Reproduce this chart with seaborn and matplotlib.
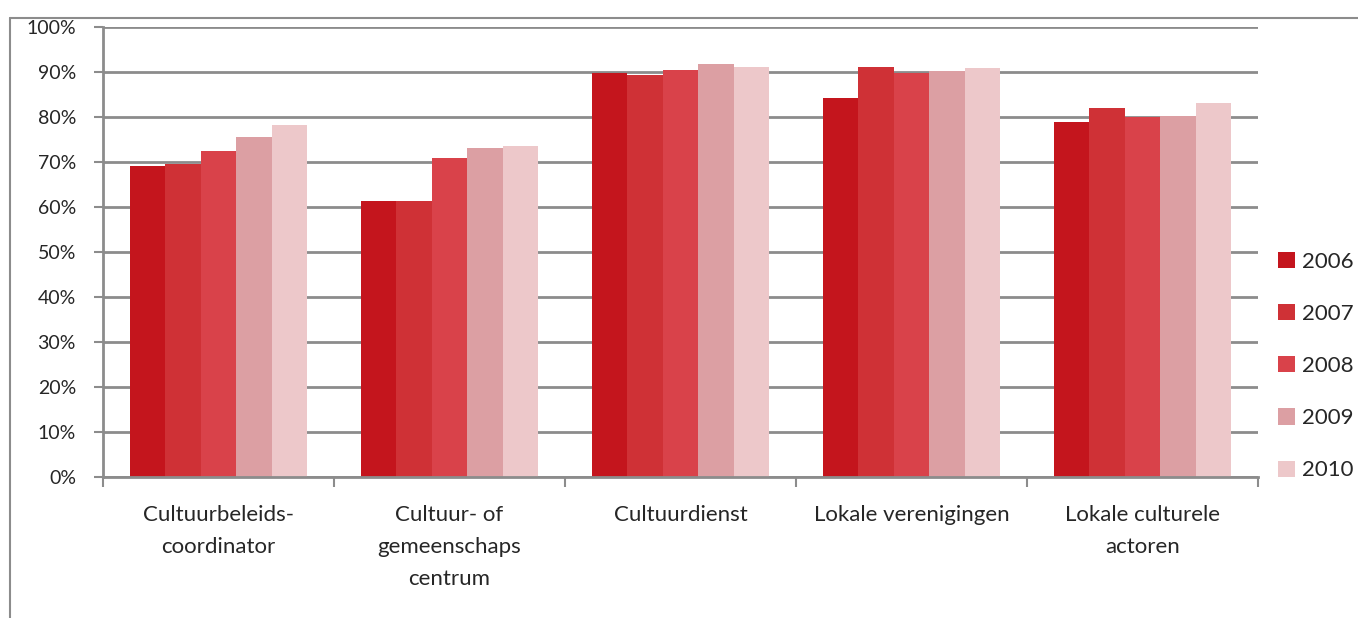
import numpy as np
import pandas as pd
import seaborn as sns
import matplotlib.pyplot as plt
from matplotlib.lines import Line2D
from matplotlib.patches import Patch

categories = ["Cultuurbeleids-\ncoordinator", "Cultuur- of\ngemeenschaps\ncentrum",
              "Cultuurdienst", "Lokale verenigingen", "Lokale culturele\nactoren"]
years = ["2006", "2007", "2008", "2009", "2010"]
v2006 = [69.2, 61.4, 89.8, 84.3, 79.0]
v2007 = [69.6, 61.3, 89.4, 91.1, 82.0]
v2008 = [72.5, 71.0, 90.4, 89.8, 80.1]
v2009 = [75.6, 73.1, 91.8, 90.2, 80.2]
v2010 = [78.2, 73.6, 91.1, 91.0, 83.2]
colors = ["#c4151d", "#cf3136", "#d9424a", "#dc9fa3", "#edc8ca"]

rows = []
for year, vals in zip(years, [v2006, v2007, v2008, v2009, v2010]):
    for cat, v in zip(categories, vals):
        rows.append({"cat": cat, "year": year, "value": v})
df = pd.DataFrame(rows)

sns.set_style("white")
plt.rcParams["font.family"] = ["Lato", "DejaVu Sans"]

fig = plt.figure(figsize=(13.58, 6.18), dpi=100)
ax = fig.add_axes([103 / 1358, 1 - 477 / 618, (1258 - 103) / 1358, 450 / 618])

sns.barplot(data=df, x="cat", y="value", hue="year", palette=colors,
            width=0.77, gap=0, ax=ax, legend=False, saturation=1,
            edgecolor="none", linewidth=0)

ax.set_ylim(0, 100)
ax.set_xlim(-0.5, len(categories) - 0.5)
ax.set_yticks(np.arange(0, 101, 10))
ax.set_yticklabels([f"{t}%" for t in range(0, 101, 10)])
ax.yaxis.grid(True, color="#8c8c8c", linewidth=2)
ax.set_axisbelow(True)

ax.set_xticks(np.arange(-0.5, len(categories)), labels=[""] * (len(categories) + 1))
ax.set_xticks(np.arange(len(categories)), labels=categories, minor=True)
ax.tick_params(axis="x", which="minor", length=0, labelsize=16, pad=20)
ax.tick_params(axis="x", which="major", length=7, width=1.5, color="#8c8c8c")
ax.tick_params(axis="y", length=6.5, width=1.5, color="#8c8c8c", labelsize=14, pad=13)
ax.tick_params(axis="both", direction="out", bottom=True, left=True)
for lbl in ax.get_xticklabels(minor=True):
    lbl.set_linespacing(1.75)
ax.set_xlabel("")
ax.set_ylabel("")

for side in ["top", "right"]:
    ax.spines[side].set_visible(False)
for side in ["left", "bottom"]:
    ax.spines[side].set_color("#8c8c8c")
    ax.spines[side].set_linewidth(2)

# outer chart frame
fig.add_artist(Line2D([10 / 1358, 10 / 1358], [0, 1 - 18 / 618], transform=fig.transFigure,
                      color="#8c8c8c", linewidth=1.5))
fig.add_artist(Line2D([10 / 1358, 1], [1 - 18 / 618, 1 - 18 / 618], transform=fig.transFigure,
                      color="#8c8c8c", linewidth=1.5))

handles = [Patch(facecolor=c, edgecolor="none") for c in colors]
fig.legend(handles, years, loc="center left", bbox_to_anchor=(1278 / 1358, 1 - 366 / 618),
           frameon=False, fontsize=16, handlelength=0.75, handleheight=0.75,
           handletextpad=0.35, labelspacing=1.45, borderpad=0, borderaxespad=0)

fig.savefig("out.png", dpi=100)
